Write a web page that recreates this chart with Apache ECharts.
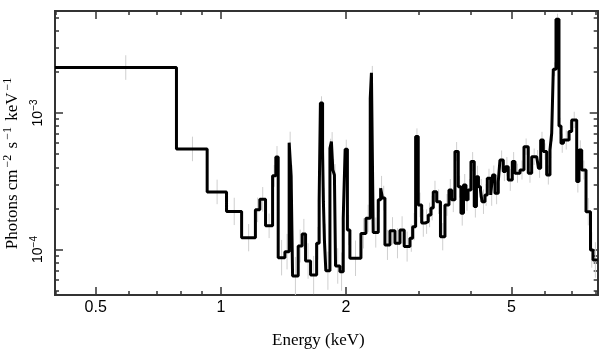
<!DOCTYPE html>
<html><head><meta charset="utf-8">
<script src="https://cdn.jsdelivr.net/npm/echarts@6/dist/echarts.min.js"></script>
<style>html,body{margin:0;padding:0;background:#fff}#c{width:609px;height:357px}</style>
</head><body><div id="c"></div>
<script>
// bin edges (keV)
const edges = [0.399, 0.782, 0.927, 1.032, 1.122, 1.211, 1.241, 1.281, 1.332, 1.356, 1.374, 1.426, 1.460, 1.476, 1.488, 1.535, 1.569, 1.599, 1.644, 1.700, 1.724, 1.736, 1.757, 1.765, 1.775, 1.789, 1.830, 1.845, 1.860, 1.876, 1.888, 1.934, 1.970, 1.991, 2.016, 2.044, 2.173, 2.234, 2.288, 2.303, 2.326, 2.392, 2.424, 2.448, 2.482, 2.552, 2.624, 2.697, 2.762, 2.851, 2.894, 2.942, 2.985, 3.042, 3.098, 3.155, 3.203, 3.244, 3.306, 3.376, 3.461, 3.539, 3.592, 3.658, 3.726, 3.782, 3.835, 3.888, 3.932, 3.998, 4.071, 4.121, 4.167, 4.214, 4.249, 4.320, 4.376, 4.459, 4.508, 4.566, 4.650, 4.694, 4.781, 4.840, 4.915, 5.026, 5.101, 5.245, 5.362, 5.491, 5.596, 5.753, 5.811, 5.882, 5.968, 6.081, 6.193, 6.252, 6.308, 6.403, 6.510, 6.583, 6.674, 6.881, 6.985, 7.181, 7.273, 7.383, 7.561, 7.752, 7.860, 8.067];
// flux per bin (photons cm^-2 s^-1 keV^-1)
const flux = [2.15e-3, 5.45e-4, 2.64e-4, 1.90e-4, 1.22e-4, 1.95e-4, 2.33e-4, 1.49e-4, 3.46e-4, 4.76e-4,
  8.71e-5, 9.64e-5, 6.06e-4, 3.46e-4, 6.39e-5, 1.06e-4, 1.30e-4, 8.23e-5, 6.50e-5, 1.11e-4,
  2.31e-4, 1.18e-3, 5.21e-4, 2.24e-4, 1.17e-4, 6.99e-5, 5.51e-4, 6.16e-4, 3.82e-4, 3.51e-4,
  7.57e-5, 6.88e-5, 1.69e-4, 5.42e-4, 1.39e-4, 8.62e-5, 1.31e-4, 1.69e-4, 1.28e-3, 1.97e-3,
  1.33e-4, 2.31e-4, 2.81e-4, 2.38e-4, 1.08e-4, 1.37e-4, 1.11e-4, 1.39e-4, 1.05e-4, 1.21e-4,
  1.47e-4, 6.71e-4, 2.12e-4, 1.56e-4, 1.60e-4, 1.79e-4, 2.01e-4, 2.65e-4, 2.24e-4, 1.24e-4,
  2.12e-4, 2.73e-4, 2.31e-4, 5.21e-4, 2.88e-4, 1.84e-4, 2.97e-4, 2.31e-4, 2.73e-4, 4.40e-4,
  2.06e-4, 3.41e-4, 2.88e-4, 2.73e-4, 2.24e-4, 2.51e-4, 3.32e-4, 2.51e-4, 3.51e-4, 2.58e-4,
  3.14e-4, 4.52e-4, 3.72e-4, 4.04e-4, 3.23e-4, 4.40e-4, 3.62e-4, 3.82e-4, 5.66e-4, 3.62e-4,
  4.78e-4, 4.66e-4, 3.93e-4, 6.34e-4, 5.21e-4, 3.51e-4, 5.36e-4, 7.10e-4, 2.09e-3, 4.86e-3,
  8.03e-4, 6.00e-4, 6.34e-4, 7.30e-4, 8.89e-4, 3.14e-4, 5.36e-4, 3.82e-4, 1.89e-4, 9.92e-5,
  8.38e-5];
// error half-length per bin (dex)
const errDex = [0.09, 0.09, 0.09, 0.10, 0.10, 0.09, 0.09, 0.09, 0.08, 0.08,
  0.13, 0.13, 0.08, 0.08, 0.14, 0.12, 0.11, 0.13, 0.14, 0.12,
  0.10, 0.05, 0.07, 0.10, 0.12, 0.14, 0.07, 0.07, 0.08, 0.08,
  0.13, 0.14, 0.10, 0.07, 0.11, 0.13, 0.11, 0.10, 0.05, 0.05,
  0.11, 0.09, 0.09, 0.09, 0.11, 0.10, 0.11, 0.10, 0.11, 0.10,
  0.10, 0.06, 0.09, 0.10, 0.09, 0.09, 0.09, 0.08, 0.09, 0.10,
  0.08, 0.08, 0.09, 0.07, 0.08, 0.09, 0.08, 0.08, 0.08, 0.07,
  0.08, 0.08, 0.08, 0.08, 0.09, 0.08, 0.07, 0.08, 0.07, 0.08,
  0.08, 0.07, 0.07, 0.07, 0.08, 0.07, 0.07, 0.07, 0.06, 0.07,
  0.06, 0.06, 0.07, 0.06, 0.06, 0.07, 0.06, 0.06, 0.05, 0.04,
  0.06, 0.07, 0.07, 0.07, 0.06, 0.08, 0.07, 0.07, 0.10, 0.13,
  0.13];
const xMajorTicks = [0.5, 1, 2, 5];
const xMinorTicks = [0.4, 0.6, 0.7, 0.8, 0.9, 3, 4, 6, 7, 8];
const yMajorTicks = [1e-4, 1e-3];
const yMinorTicks = [5e-5, 6e-5, 7e-5, 8e-5, 9e-5, 2e-4, 3e-4, 4e-4, 5e-4, 6e-4, 7e-4, 8e-4, 9e-4, 2e-3, 3e-3, 4e-3, 5e-3];
const xRange = [0.399, 8.067];
const yRange = [4.64e-5, 5.58e-3];

const stepData = flux.map((v, i) => [edges[i], v]);
stepData.push([edges[edges.length - 1], flux[flux.length - 1]]);
const errData = flux.map((v, i) => {
  const c = (edges[i] + edges[i + 1]) / 2;
  const f = Math.pow(10, errDex[i]);
  return [c, v / f, v * f];
});

const AX = '#333';
const SANS = 'Liberation Sans, Arial, sans-serif';
const SERIF = 'Liberation Serif, Times New Roman, serif';
function xAxisDef(pos, ticks, len, labels) {
  return {
    type: 'log', logBase: 10, min: xRange[0], max: xRange[1], position: pos,
    axisLine: { onZero: false, lineStyle: { color: AX, width: 2 } },
    axisTick: { inside: true, length: len, customValues: ticks, lineStyle: { color: AX, width: 1.5 } },
    axisLabel: labels ? { customValues: ticks, margin: 5, color: '#000', fontFamily: SANS, fontSize: 16,
      formatter: v => String(v) } : { show: false },
    splitLine: { show: false }, minorTick: { show: false },
    name: labels ? 'Energy (keV)' : '', nameLocation: 'middle', nameGap: 37,
    nameTextStyle: { color: '#000', fontFamily: SERIF, fontSize: 17, padding: [0, 16, 0, 0] }
  };
}
function yAxisDef(pos, ticks, len, labels) {
  return {
    type: 'log', logBase: 10, min: yRange[0], max: yRange[1], position: pos,
    axisLine: { onZero: false, lineStyle: { color: AX, width: 2 } },
    axisTick: { inside: true, length: len, customValues: ticks, lineStyle: { color: AX, width: 1.5 } },
    axisLabel: labels ? { customValues: ticks, margin: 8, rotate: 90, color: '#000', fontFamily: SANS, fontSize: 14,
      formatter: v => '10{s|\u2212' + Math.round(-Math.log10(v)) + '}',
      rich: { s: { fontSize: 10, fontFamily: SANS, color: '#000', verticalAlign: 'top', padding: [0, 0, 8, 0] } } } : { show: false },
    splitLine: { show: false }, minorTick: { show: false },
    name: labels ? 'Photons cm{s|\u22122} s{s|\u22121} keV{s|\u22121}' : '', nameLocation: 'middle', nameGap: 21,
    nameTextStyle: { color: '#000', fontFamily: SERIF, fontSize: 17, padding: [0, 19, 0, 0],
      rich: { s: { fontSize: 12, fontFamily: SERIF, color: '#000', padding: [0, 2, 9, 2] } } }
  };
}

const chart = echarts.init(document.getElementById('c'), null, { renderer: 'canvas' });
chart.setOption({
  animation: false,
  backgroundColor: '#fff',
  grid: { left: 55, right: 11.3, top: 11, bottom: 62, containLabel: false, outerBoundsMode: 'none' },
  xAxis: [xAxisDef('bottom', xMajorTicks, 8, true), xAxisDef('bottom', xMinorTicks, 4, false),
          xAxisDef('top', xMajorTicks, 8, false), xAxisDef('top', xMinorTicks, 4, false)],
  yAxis: [yAxisDef('left', yMajorTicks, 8, true), yAxisDef('left', yMinorTicks, 4, false),
          yAxisDef('right', yMajorTicks, 8, false), yAxisDef('right', yMinorTicks, 4, false)],
  series: [
    {
      type: 'custom', xAxisIndex: 0, yAxisIndex: 0, z: 1, clip: true,
      data: errData,
      encode: { x: 0, y: [1, 2] },
      renderItem: (params, api) => {
        const p1 = api.coord([api.value(0), api.value(1)]);
        const p2 = api.coord([api.value(0), api.value(2)]);
        return { type: 'line', shape: { x1: p1[0], y1: p1[1], x2: p2[0], y2: p2[1] },
          style: { stroke: '#cfcfcf', lineWidth: 1 } };
      }
    },
    {
      type: 'line', xAxisIndex: 0, yAxisIndex: 0, z: 3, step: 'end', showSymbol: false, symbol: 'none',
      data: stepData, lineStyle: { color: '#000', width: 3 }, clip: true
    }
  ]
});
</script></body></html>
